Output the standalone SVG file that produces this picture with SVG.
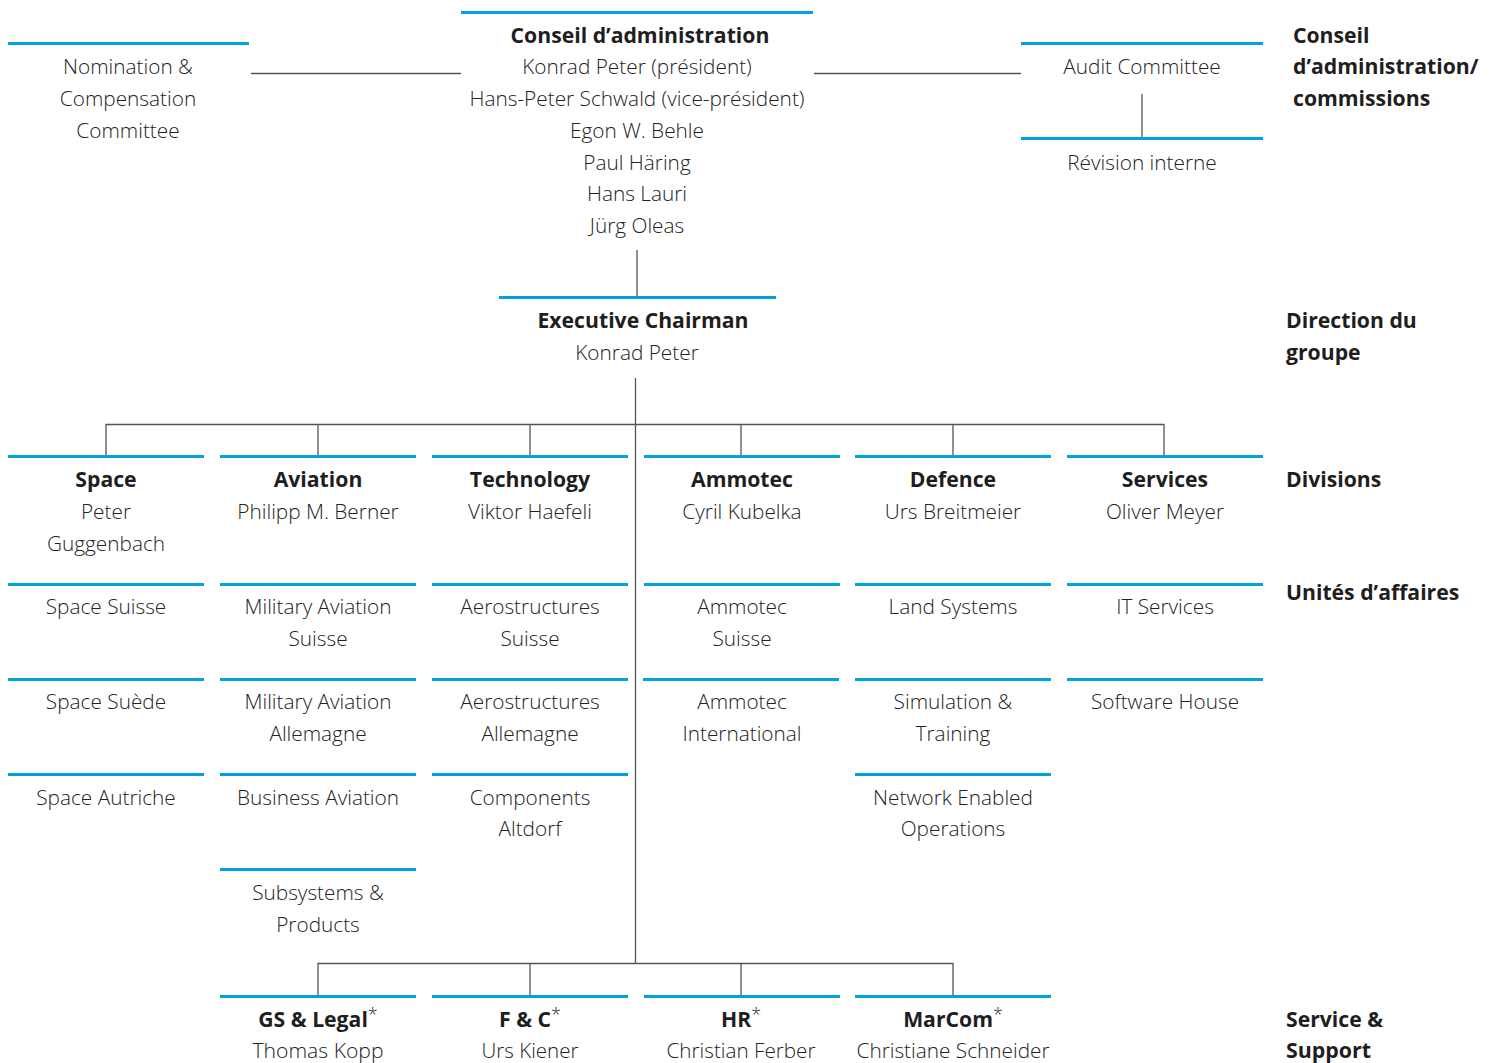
<svg xmlns="http://www.w3.org/2000/svg" width="1494" height="1063" viewBox="0 0 1494 1063">
<style>
.bl{stroke:#00a3e0;stroke-width:3;fill:none}
.cn{stroke:#555;stroke-width:1.3;fill:none}
text{font-family:"Open Sans","Noto Sans","Liberation Sans",sans-serif;font-size:20.8px;fill:#222;text-anchor:middle;font-weight:300}
.b{font-weight:700;fill:#1e1e1e;font-size:21.2px}
.l{text-anchor:start;font-weight:700;fill:#1e1e1e;font-size:21.2px}
.s{font-size:18px;font-weight:300}
</style>
<rect width="1494" height="1063" fill="#fff"/>
<g id="connectors">
<line class="cn" x1="251" y1="73.5" x2="461" y2="73.5"/>
<line class="cn" x1="814" y1="73.5" x2="1021" y2="73.5"/>
<line class="cn" x1="1142" y1="94" x2="1142" y2="138"/>
<line class="cn" x1="637" y1="250" x2="637" y2="297"/>
<line class="cn" x1="635.5" y1="378" x2="635.5" y2="963"/>
<polyline class="cn" points="106,456 106,424.5 1164,424.5 1164,456"/>
<line class="cn" x1="318" y1="424" x2="318" y2="456"/>
<line class="cn" x1="530" y1="424" x2="530" y2="456"/>
<line class="cn" x1="741" y1="424" x2="741" y2="456"/>
<line class="cn" x1="953" y1="424" x2="953" y2="456"/>
<polyline class="cn" points="318,996 318,963.5 953,963.5 953,996"/>
<line class="cn" x1="530" y1="963" x2="530" y2="996"/>
<line class="cn" x1="741" y1="963" x2="741" y2="996"/>
</g>
<g id="conseil">
<line class="bl" x1="461" y1="12.5" x2="813" y2="12.5"/>
<text class="b" x="640" y="43">Conseil d’administration</text>
<text x="637" y="74">Konrad Peter (président)</text>
<text x="637" y="106">Hans-Peter Schwald (vice-président)</text>
<text x="637" y="138">Egon W. Behle</text>
<text x="637" y="170">Paul Häring</text>
<text x="637" y="201">Hans Lauri</text>
<text x="637" y="233">Jürg Oleas</text>
</g>
<g id="nomination">
<line class="bl" x1="8" y1="43.5" x2="249" y2="43.5"/>
<text x="128" y="74">Nomination &amp;</text>
<text x="128" y="106">Compensation</text>
<text x="128" y="138">Committee</text>
</g>
<g id="audit">
<line class="bl" x1="1021" y1="43.5" x2="1263" y2="43.5"/>
<text x="1142" y="74">Audit Committee</text>
</g>
<g id="revision">
<line class="bl" x1="1021" y1="138.5" x2="1263" y2="138.5"/>
<text x="1142" y="170">Révision interne</text>
</g>
<g id="exec">
<line class="bl" x1="499" y1="297.5" x2="776" y2="297.5"/>
<text class="b" x="643" y="328">Executive Chairman</text>
<text x="637" y="360">Konrad Peter</text>
</g>
<g id="labels">
<text class="l" x="1293" y="43">Conseil</text>
<text class="l" x="1293" y="74">d’administration/</text>
<text class="l" x="1293" y="106">commissions</text>
<text class="l" x="1286" y="328">Direction du</text>
<text class="l" x="1286" y="360">groupe</text>
<text class="l" x="1286" y="487">Divisions</text>
<text class="l" x="1286" y="600">Unités d’affaires</text>
<text class="l" x="1286" y="1027" textLength="97" lengthAdjust="spacingAndGlyphs">Service &amp;</text>
<text class="l" x="1286" y="1058" textLength="85" lengthAdjust="spacingAndGlyphs">Support</text>
</g>
<g id="div-space">
<line class="bl" x1="8" y1="456.5" x2="204" y2="456.5"/>
<text class="b" x="106" y="487">Space</text>
<text x="106" y="519">Peter</text>
<text x="106" y="551">Guggenbach</text>
</g>
<g id="div-aviation">
<line class="bl" x1="220" y1="456.5" x2="416" y2="456.5"/>
<text class="b" x="318" y="487">Aviation</text>
<text x="318" y="519">Philipp M. Berner</text>
</g>
<g id="div-technology">
<line class="bl" x1="432" y1="456.5" x2="628" y2="456.5"/>
<text class="b" x="530" y="487">Technology</text>
<text x="530" y="519">Viktor Haefeli</text>
</g>
<g id="div-ammotec">
<line class="bl" x1="644" y1="456.5" x2="840" y2="456.5"/>
<text class="b" x="742" y="487">Ammotec</text>
<text x="742" y="519">Cyril Kubelka</text>
</g>
<g id="div-defence">
<line class="bl" x1="855" y1="456.5" x2="1051" y2="456.5"/>
<text class="b" x="953" y="487">Defence</text>
<text x="953" y="519">Urs Breitmeier</text>
</g>
<g id="div-services">
<line class="bl" x1="1067" y1="456.5" x2="1263" y2="456.5"/>
<text class="b" x="1165" y="487">Services</text>
<text x="1165" y="519">Oliver Meyer</text>
</g>
<g id="bu-space-suisse">
<line class="bl" x1="8" y1="584.5" x2="204" y2="584.5"/>
<text x="106" y="614">Space Suisse</text>
</g>
<g id="bu-space-suede">
<line class="bl" x1="8" y1="679.5" x2="204" y2="679.5"/>
<text x="106" y="709">Space Suède</text>
</g>
<g id="bu-space-autriche">
<line class="bl" x1="8" y1="774.5" x2="204" y2="774.5"/>
<text x="106" y="805">Space Autriche</text>
</g>
<g id="bu-milav-suisse">
<line class="bl" x1="220" y1="584.5" x2="416" y2="584.5"/>
<text x="318" y="614">Military Aviation</text>
<text x="318" y="646">Suisse</text>
</g>
<g id="bu-milav-allemagne">
<line class="bl" x1="220" y1="679.5" x2="416" y2="679.5"/>
<text x="318" y="709">Military Aviation</text>
<text x="318" y="741">Allemagne</text>
</g>
<g id="bu-business-aviation">
<line class="bl" x1="220" y1="774.5" x2="416" y2="774.5"/>
<text x="318" y="805">Business Aviation</text>
</g>
<g id="bu-subsystems">
<line class="bl" x1="220" y1="869.5" x2="416" y2="869.5"/>
<text x="318" y="900">Subsystems &amp;</text>
<text x="318" y="932">Products</text>
</g>
<g id="bu-aero-suisse">
<line class="bl" x1="432" y1="584.5" x2="628" y2="584.5"/>
<text x="530" y="614">Aerostructures</text>
<text x="530" y="646">Suisse</text>
</g>
<g id="bu-aero-allemagne">
<line class="bl" x1="432" y1="679.5" x2="628" y2="679.5"/>
<text x="530" y="709">Aerostructures</text>
<text x="530" y="741">Allemagne</text>
</g>
<g id="bu-components">
<line class="bl" x1="432" y1="774.5" x2="628" y2="774.5"/>
<text x="530" y="805">Components</text>
<text x="530" y="836">Altdorf</text>
</g>
<g id="bu-ammotec-suisse">
<line class="bl" x1="644" y1="584.5" x2="840" y2="584.5"/>
<text x="742" y="614">Ammotec</text>
<text x="742" y="646">Suisse</text>
</g>
<g id="bu-ammotec-int">
<line class="bl" x1="643" y1="679.5" x2="839" y2="679.5"/>
<text x="742" y="709">Ammotec</text>
<text x="742" y="741">International</text>
</g>
<g id="bu-land">
<line class="bl" x1="855" y1="584.5" x2="1051" y2="584.5"/>
<text x="953" y="614">Land Systems</text>
</g>
<g id="bu-simulation">
<line class="bl" x1="855" y1="679.5" x2="1051" y2="679.5"/>
<text x="953" y="709">Simulation &amp;</text>
<text x="953" y="741">Training</text>
</g>
<g id="bu-network">
<line class="bl" x1="855" y1="774.5" x2="1051" y2="774.5"/>
<text x="953" y="805">Network Enabled</text>
<text x="953" y="836">Operations</text>
</g>
<g id="bu-it">
<line class="bl" x1="1067" y1="584.5" x2="1263" y2="584.5"/>
<text x="1165" y="614">IT Services</text>
</g>
<g id="bu-software">
<line class="bl" x1="1067" y1="679.5" x2="1263" y2="679.5"/>
<text x="1165" y="709">Software House</text>
</g>
<g id="ss-gs">
<line class="bl" x1="220" y1="996.5" x2="416" y2="996.5"/>
<text x="318" y="1027"><tspan class="b">GS &amp; Legal</tspan><tspan class="s" dy="-6">*</tspan></text>
<text x="318" y="1058" textLength="131" lengthAdjust="spacingAndGlyphs">Thomas Kopp</text>
</g>
<g id="ss-fc">
<line class="bl" x1="432" y1="996.5" x2="628" y2="996.5"/>
<text x="530" y="1027"><tspan class="b">F &amp; C</tspan><tspan class="s" dy="-6">*</tspan></text>
<text x="530" y="1058" textLength="97" lengthAdjust="spacingAndGlyphs">Urs Kiener</text>
</g>
<g id="ss-hr">
<line class="bl" x1="644" y1="996.5" x2="840" y2="996.5"/>
<text x="741" y="1027"><tspan class="b">HR</tspan><tspan class="s" dy="-6">*</tspan></text>
<text x="741" y="1058" textLength="149" lengthAdjust="spacingAndGlyphs">Christian Ferber</text>
</g>
<g id="ss-marcom">
<line class="bl" x1="855" y1="996.5" x2="1051" y2="996.5"/>
<text x="953" y="1027"><tspan class="b">MarCom</tspan><tspan class="s" dy="-6">*</tspan></text>
<text x="953" y="1058" textLength="193" lengthAdjust="spacingAndGlyphs">Christiane Schneider</text>
</g>
</svg>
